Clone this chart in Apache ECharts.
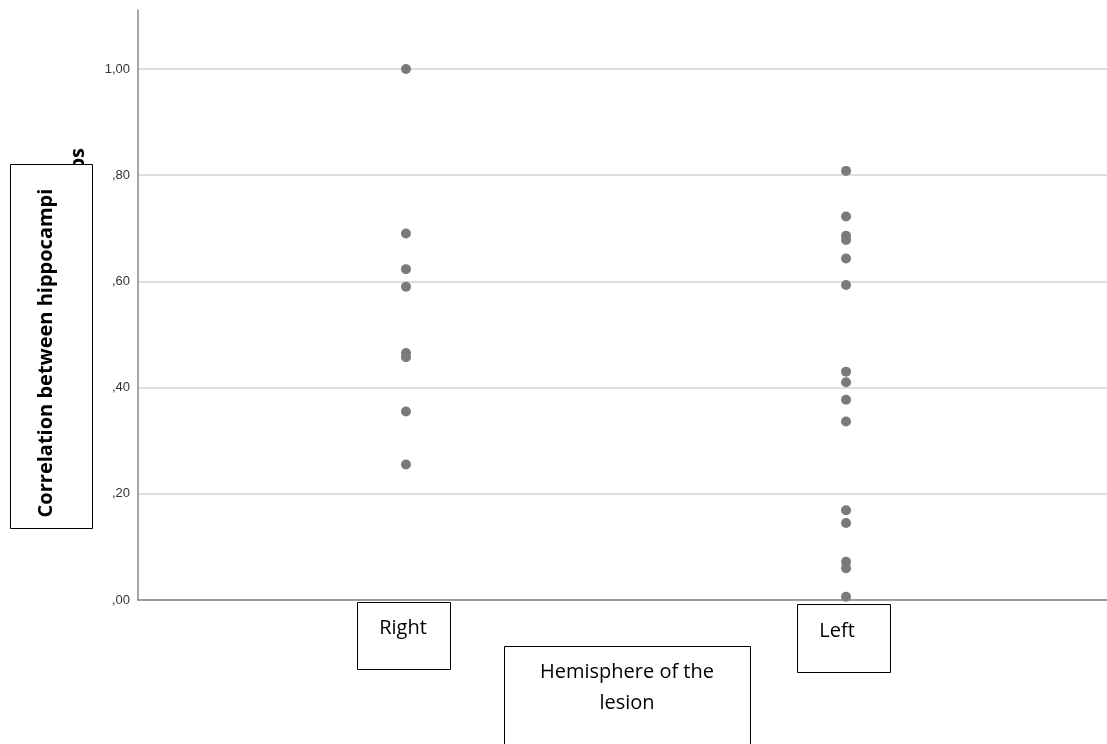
<!DOCTYPE html>
<html>
<head>
<meta charset="utf-8">
<script src="https://cdn.jsdelivr.net/npm/echarts@6/dist/echarts.min.js"></script>
<style>
html,body{margin:0;padding:0;background:#fff;}
#chart{width:1107px;height:744px;}
</style>
</head>
<body>
<div id="chart"></div>
<script>
var categories = ['Right', 'Left'];
var rightValues = [1.00, 0.69, 0.623, 0.59, 0.465, 0.457, 0.355, 0.255];
var leftValues = [0.808, 0.722, 0.686, 0.678, 0.643, 0.593, 0.43, 0.41, 0.377, 0.336, 0.169, 0.145, 0.072, 0.06, 0.006];
var yTicks = [0, 0.2, 0.4, 0.6, 0.8, 1.0];
var yTitle = 'Correlation between hippocampi';
var yTitleHidden = 'maps';
var xTitle = ['Hemisphere of the', 'lesion'];

var chart = echarts.init(document.getElementById('chart'));

function fmt(v) {
  var s = v.toFixed(2).replace('.', ',');
  return s.replace(/^0/, '');
}

var data = [];
rightValues.forEach(function (v) { data.push([1, v]); });
leftValues.forEach(function (v) { data.push([2, v]); });

var boxFont = '"Open Sans", sans-serif';

chart.setOption({
  animation: false,
  backgroundColor: '#ffffff',
  grid: { left: 138, right: 0, top: 10, bottom: 144, containLabel: false },
  xAxis: {
    type: 'value',
    min: 0.391,
    max: 2.593,
    axisLine: { show: true, onZero: false, lineStyle: { color: '#888888', width: 1.5 } },
    axisTick: { show: false },
    axisLabel: { show: false },
    splitLine: { show: false }
  },
  yAxis: {
    type: 'value',
    min: 0,
    max: 1.111,
    interval: 0.2,
    axisLine: { show: true, lineStyle: { color: '#888888', width: 1.5 } },
    axisTick: { show: false },
    axisLabel: {
      showMaxLabel: false,
      margin: 8,
      color: '#333333',
      fontFamily: '"Liberation Sans", Arial, sans-serif',
      fontSize: 13,
      formatter: function (v) {
        for (var i = 0; i < yTicks.length; i++) {
          if (Math.abs(yTicks[i] - v) < 1e-6) return fmt(yTicks[i]);
        }
        return '';
      }
    },
    splitLine: { show: true, showMaxLine: false, lineStyle: { color: '#d2d2d2', width: 1.5 } }
  },
  series: [{
    type: 'scatter',
    data: data,
    symbol: 'circle',
    symbolSize: 10,
    itemStyle: { color: '#7a7a7a', opacity: 1 },
    z: 5
  }],
  graphic: [
    {
      type: 'text', z: 10, x: 78, y: 148, rotation: Math.PI / 2,
      style: { text: yTitleHidden, textAlign: 'right', textVerticalAlign: 'middle',
        font: 'bold 20px ' + boxFont, fill: '#000' }
    },
    {
      type: 'rect', z: 11, shape: { x: 10.5, y: 164.5, width: 82, height: 364 },
      style: { fill: '#ffffff', stroke: '#000000', lineWidth: 1 }
    },
    {
      type: 'text', z: 12, x: 46, y: 353, rotation: Math.PI / 2,
      style: { text: yTitle, textAlign: 'center', textVerticalAlign: 'middle',
        font: 'bold 20px ' + boxFont, fill: '#000' }
    },
    {
      type: 'rect', z: 11, shape: { x: 357.5, y: 602.5, width: 93, height: 67 },
      style: { fill: '#ffffff', stroke: '#000000', lineWidth: 1 }
    },
    {
      type: 'text', z: 12, x: 403, y: 628,
      style: { text: categories[0], textAlign: 'center', textVerticalAlign: 'middle',
        font: '20px ' + boxFont, fill: '#000' }
    },
    {
      type: 'rect', z: 11, shape: { x: 797.5, y: 604.5, width: 93, height: 68 },
      style: { fill: '#ffffff', stroke: '#000000', lineWidth: 1 }
    },
    {
      type: 'text', z: 12, x: 837, y: 631,
      style: { text: categories[1], textAlign: 'center', textVerticalAlign: 'middle',
        font: '20px ' + boxFont, fill: '#000' }
    },
    {
      type: 'rect', z: 11, shape: { x: 504.5, y: 646.5, width: 246, height: 110 },
      style: { fill: '#ffffff', stroke: '#000000', lineWidth: 1 }
    },
    {
      type: 'text', z: 12, x: 627, y: 672,
      style: { text: xTitle[0], textAlign: 'center', textVerticalAlign: 'middle',
        font: '20px ' + boxFont, fill: '#000' }
    },
    {
      type: 'text', z: 12, x: 627, y: 703,
      style: { text: xTitle[1], textAlign: 'center', textVerticalAlign: 'middle',
        font: '20px ' + boxFont, fill: '#000' }
    }
  ]
});
</script>
</body>
</html>
